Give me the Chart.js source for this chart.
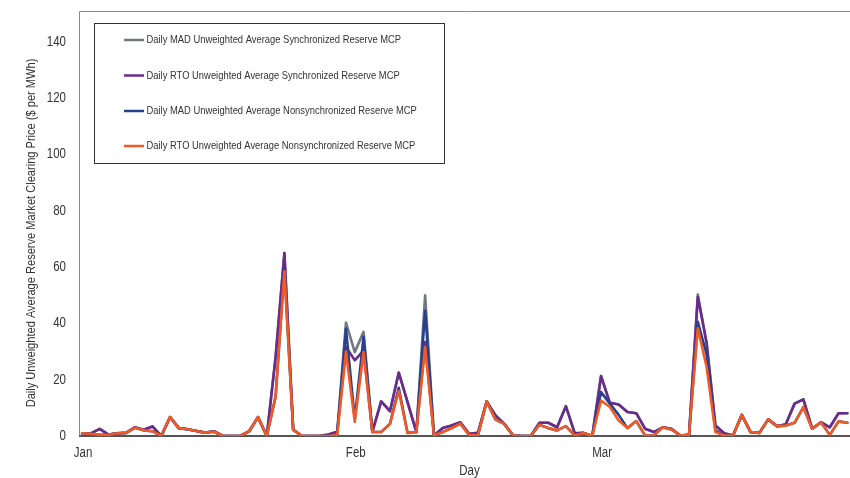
<!DOCTYPE html>
<html>
<head>
<meta charset="utf-8">
<script src="https://cdn.jsdelivr.net/npm/chart.js@4/dist/chart.umd.min.js"></script>
<style>
  html, body { margin: 0; padding: 0; background: #ffffff; }
  #wrap { width: 850px; height: 478px; }
</style>
</head>
<body>
<div id="wrap"><canvas id="chart" width="850" height="478"></canvas></div>
<script>
// Day-of-year positions where each month begins, and their axis labels
const monthStartDays = [0, 31, 59];
const monthLabels = ['Jan', 'Feb', 'Mar'];
const yTickValues = [0, 20, 40, 60, 80, 100, 120, 140];

const seriesNames = [
  'Daily MAD Unweighted Average Synchronized Reserve MCP',
  'Daily RTO Unweighted Average Synchronized Reserve MCP',
  'Daily MAD Unweighted Average Nonsynchronized Reserve MCP',
  'Daily RTO Unweighted Average Nonsynchronized Reserve MCP'
];
const seriesColors = ['#6f797e', '#6a2c8c', '#25408f', '#f15a24'];

// Daily averages, $/MWh, Jan 1 onward
const madSync = [
  1.0, 0.9, 2.5, 0.5, 1.0, 1.1, 3.1, 2.2, 3.4, 0.0,
  6.7, 2.8, 2.4, 1.8, 1.2, 1.7, 0.0, 0.0, 0.0, 1.7,
  6.7, 0.0, 28.0, 65.0, 2.2, 0.0, 0.0, 0.0, 0.5, 1.5,
  40.3, 29.8, 37.0, 1.5, 12.3, 8.8, 22.5, 12.0, 1.4, 50.0,
  0.2, 2.8, 3.7, 4.9, 0.8, 1.1, 12.3, 7.3, 4.3, 0.2,
  0.0, 0.0, 4.7, 4.7, 3.1, 10.6, 1.0, 1.1, 0.0, 21.3,
  11.8, 11.2, 8.5, 8.1, 2.6, 1.4, 3.1, 2.6, 0.2, 0.4,
  50.3, 33.0, 3.7, 1.0, 0.2, 7.5, 1.4, 1.1, 5.9, 3.5,
  4.2, 11.5, 13.0, 2.6, 4.9, 3.1, 8.1, 8.1
];
const rtoSync = [
  1.0, 0.9, 2.5, 0.5, 1.0, 1.1, 3.1, 2.2, 3.4, 0.0,
  6.7, 2.8, 2.4, 1.8, 1.2, 1.7, 0.0, 0.0, 0.0, 1.7,
  6.7, 0.0, 28.0, 65.0, 2.2, 0.0, 0.0, 0.0, 0.5, 1.5,
  31.6, 26.9, 30.4, 1.5, 12.3, 8.8, 22.5, 12.0, 1.4, 33.4,
  0.2, 2.8, 3.7, 4.9, 0.8, 1.1, 12.3, 7.3, 4.3, 0.2,
  0.0, 0.0, 4.7, 4.7, 3.1, 10.6, 1.0, 1.1, 0.0, 21.3,
  11.8, 11.2, 8.5, 8.1, 2.6, 1.4, 3.1, 2.6, 0.2, 0.4,
  49.4, 33.0, 3.7, 1.0, 0.2, 7.5, 1.4, 1.1, 5.9, 3.5,
  4.2, 11.5, 13.0, 2.6, 4.9, 3.1, 8.1, 8.1
];
const madNonsync = [
  1.0, 0.8, 0.4, 0.4, 1.0, 1.1, 2.9, 2.0, 1.7, 0.0,
  6.7, 2.8, 2.4, 1.8, 1.2, 1.5, 0.0, 0.0, 0.0, 1.7,
  6.7, 0.0, 14.0, 59.5, 2.2, 0.0, 0.0, 0.0, 0.0, 0.3,
  38.1, 6.0, 35.2, 1.4, 1.4, 4.3, 17.1, 1.1, 1.4, 44.5,
  0.2, 1.4, 2.8, 4.4, 0.4, 0.2, 12.3, 5.8, 4.3, 0.2,
  0.0, 0.0, 4.0, 2.8, 2.0, 3.5, 0.2, 1.1, 0.0, 15.6,
  11.5, 7.5, 2.8, 5.3, 0.2, 0.2, 3.1, 2.3, 0.2, 0.4,
  40.6, 29.0, 2.0, 0.2, 0.2, 7.5, 1.4, 1.1, 5.9, 3.5,
  3.7, 4.7, 10.3, 2.6, 4.9, 0.4, 5.2, 4.7
];
const rtoNonsync = [
  1.0, 0.8, 0.4, 0.4, 1.0, 1.1, 2.9, 2.0, 1.7, 0.0,
  6.7, 2.8, 2.4, 1.8, 1.2, 1.5, 0.0, 0.0, 0.0, 1.7,
  6.7, 0.0, 14.0, 58.5, 2.2, 0.0, 0.0, 0.0, 0.0, 0.3,
  30.0, 5.0, 29.8, 1.4, 1.4, 4.3, 16.0, 1.1, 1.4, 31.6,
  0.2, 1.4, 2.8, 4.4, 0.4, 0.2, 12.3, 5.8, 4.3, 0.2,
  0.0, 0.0, 4.0, 2.8, 2.0, 3.5, 0.2, 1.1, 0.0, 12.6,
  10.3, 5.5, 2.8, 5.3, 0.2, 0.2, 3.1, 2.3, 0.2, 0.4,
  38.3, 24.5, 1.4, 0.2, 0.2, 7.5, 1.4, 1.1, 5.9, 3.5,
  3.7, 4.7, 10.3, 2.6, 4.9, 0.4, 5.2, 4.7
];

const allSeries = [madSync, rtoSync, madNonsync, rtoNonsync];
const dayIndex = rtoNonsync.map((_, i) => i);

const FONT = "'Liberation Sans', Arial, sans-serif";
const TEXT = '#333333';

// Text in a horizontally condensed face (Arial Narrow look)
function narrowText(ctx, text, x, y, size, squeeze, align) {
  ctx.save();
  ctx.translate(x, y);
  ctx.scale(squeeze, 1);
  ctx.font = size + 'px ' + FONT;
  ctx.textAlign = align;
  ctx.textBaseline = 'middle';
  ctx.fillStyle = TEXT;
  ctx.fillText(text, 0, 0);
  ctx.restore();
}

// Plot frame, tick labels, axis titles and the boxed legend inside the plot
const decorations = {
  id: 'decorations',
  beforeDatasetsDraw(chart) {
    const { ctx, chartArea: a } = chart;
    ctx.save();
    ctx.strokeStyle = '#8a8a8a';
    ctx.lineWidth = 1;
    ctx.beginPath();
    ctx.moveTo(a.left + 0.5, a.bottom);
    ctx.lineTo(a.left + 0.5, a.top + 0.5);
    ctx.lineTo(a.right, a.top + 0.5);
    ctx.stroke();
    ctx.strokeStyle = '#555555';
    ctx.lineWidth = 2;
    ctx.beginPath();
    ctx.moveTo(a.left, a.bottom);
    ctx.lineTo(a.right, a.bottom);
    ctx.stroke();
    ctx.restore();
  },
  afterDraw(chart) {
    const { ctx, chartArea: a, scales } = chart;

    // tick labels placed by the scales
    scales.y.ticks.forEach(t => {
      narrowText(ctx, String(t.value), 66, scales.y.getPixelForValue(t.value), 14, 0.82, 'right');
    });
    scales.x.ticks.forEach(t => {
      const label = monthLabels[monthStartDays.indexOf(t.value)];
      narrowText(ctx, label, scales.x.getPixelForValue(t.value) + 1, 453, 14, 0.82, 'center');
    });

    // axis titles
    narrowText(ctx, 'Day', (a.left + a.right) / 2 + 5, 471, 14, 0.82, 'center');
    ctx.save();
    ctx.translate(31, 233);
    ctx.rotate(-Math.PI / 2);
    narrowText(ctx, 'Daily Unweighted Average Reserve Market Clearing Price ($ per MWh)', 0, 0, 13.5, 0.82, 'center');
    ctx.restore();

    // legend box
    ctx.save();
    const bx = 94.5, by = 23.5, bw = 350, bh = 140;
    ctx.fillStyle = '#ffffff';
    ctx.fillRect(bx, by, bw, bh);
    ctx.strokeStyle = '#333333';
    ctx.lineWidth = 1;
    ctx.strokeRect(bx, by, bw, bh);
    ctx.restore();
    const rows = [40, 75.5, 111, 146];
    chart.data.datasets.forEach((ds, i) => {
      ctx.save();
      ctx.strokeStyle = ds.borderColor;
      ctx.lineWidth = 2.5;
      ctx.beginPath();
      ctx.moveTo(124, rows[i]);
      ctx.lineTo(144, rows[i]);
      ctx.stroke();
      ctx.restore();
      narrowText(ctx, ds.label, 146.5, rows[i] + 0.5, 10.8, 0.87, 'left');
    });
  }
};

new Chart(document.getElementById('chart'), {
  type: 'line',
  data: {
    labels: dayIndex,
    datasets: allSeries.map((values, i) => ({
      label: seriesNames[i],
      data: values,
      borderColor: seriesColors[i],
      backgroundColor: seriesColors[i],
      borderWidth: 2.6,
      borderJoinStyle: 'round',
      borderCapStyle: 'round',
      pointRadius: 0,
      tension: 0,
      fill: false,
      order: 3 - i
    }))
  },
  options: {
    responsive: false,
    animation: false,
    devicePixelRatio: 1,
    layout: { padding: { top: 11, right: 0, left: 0, bottom: 0 } },
    plugins: { legend: { display: false }, tooltip: { enabled: false } },
    scales: {
      x: {
        type: 'linear',
        min: -0.35,
        max: 87.3,
        grid: { display: false, drawTicks: false },
        border: { display: false },
        afterBuildTicks: (s) => { s.ticks = monthStartDays.map(v => ({ value: v })); },
        afterFit: (s) => { s.height = 42; },
        ticks: { display: false }
      },
      y: {
        min: 0,
        max: 151,
        grid: { display: false, drawTicks: false },
        border: { display: false },
        afterBuildTicks: (s) => { s.ticks = yTickValues.map(v => ({ value: v })); },
        afterFit: (s) => { s.width = 79; },
        ticks: { display: false }
      }
    }
  },
  plugins: [decorations]
});
</script>
</body>
</html>
